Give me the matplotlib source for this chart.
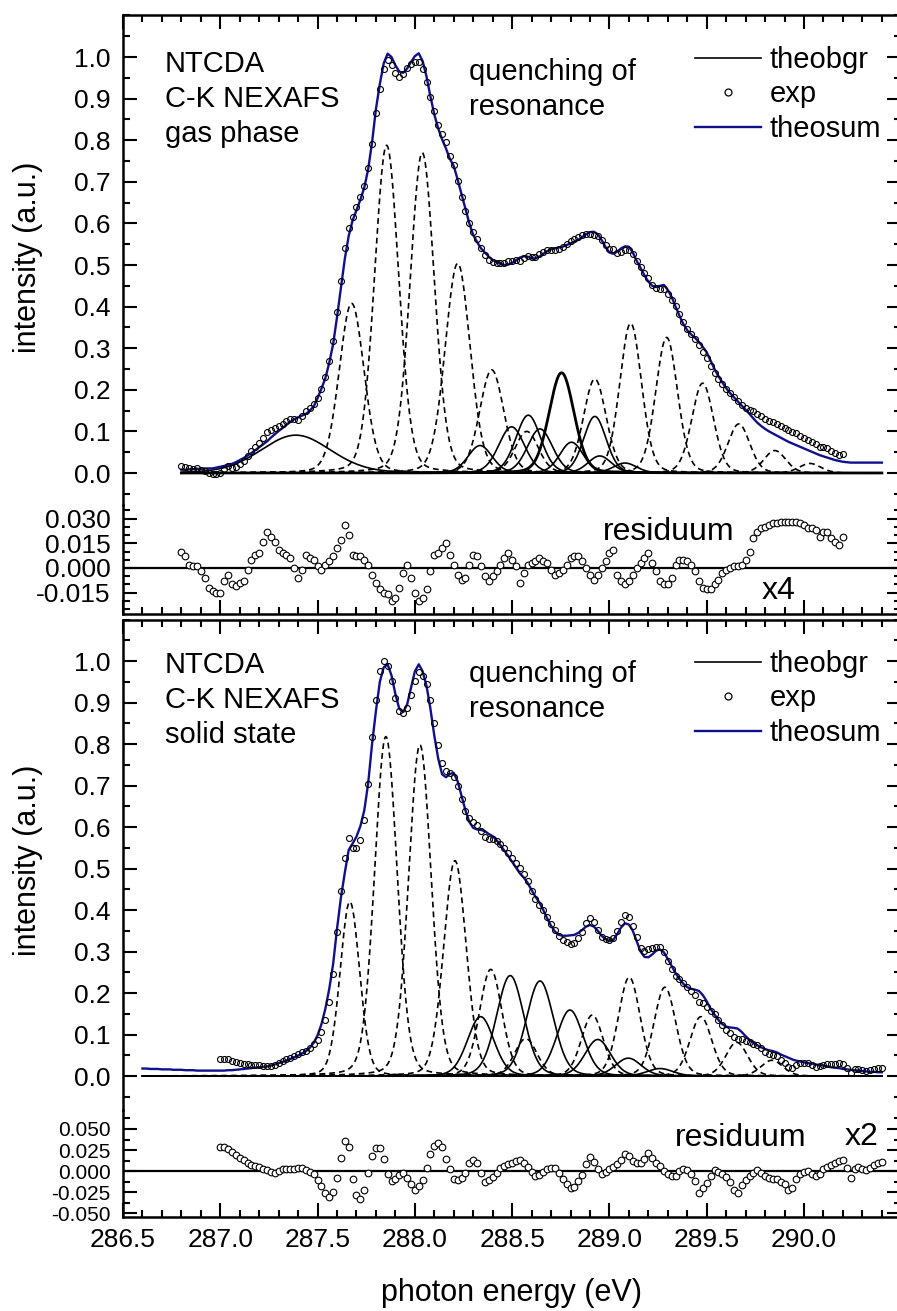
import numpy as np
import matplotlib.pyplot as plt
from matplotlib.lines import Line2D
from matplotlib.ticker import MultipleLocator, FixedLocator, FormatStrFormatter

plt.rcParams['font.family'] = ['Liberation Sans', 'DejaVu Sans']
plt.rcParams['axes.unicode_minus'] = False

# ---------------- gas phase (top) ----------------
# theosum, 0.02 eV steps from 286.80 to 290.40
gas_sum = [
    0.008, 0.008, 0.009, 0.009, 0.010, 0.010, 0.011, 0.011, 0.011, 0.013,
    0.015, 0.017, 0.020, 0.022, 0.026, 0.031, 0.036, 0.042, 0.048, 0.055,
    0.062, 0.069, 0.076, 0.085, 0.093, 0.101, 0.108, 0.116, 0.123, 0.129,
    0.134, 0.138, 0.142, 0.150, 0.160, 0.180, 0.203, 0.228, 0.265, 0.310,
    0.375, 0.445, 0.515, 0.570, 0.607, 0.632, 0.657, 0.686, 0.730, 0.795,
    0.875, 0.935, 0.985, 1.008, 1.000, 0.980, 0.965, 0.962, 0.972, 0.988,
    1.002, 1.009, 0.990, 0.953, 0.905, 0.862, 0.828, 0.802, 0.780, 0.755,
    0.738, 0.705, 0.670, 0.635, 0.600, 0.572, 0.555, 0.540, 0.530, 0.520,
    0.512, 0.507, 0.503, 0.500, 0.501, 0.505, 0.511, 0.518, 0.521, 0.520,
    0.516, 0.516, 0.520, 0.527, 0.533, 0.538, 0.540, 0.542, 0.544, 0.548,
    0.552, 0.556, 0.561, 0.567, 0.574, 0.579, 0.580, 0.574, 0.560, 0.543,
    0.530, 0.527, 0.532, 0.540, 0.545, 0.544, 0.530, 0.510, 0.493, 0.475,
    0.460, 0.450, 0.447, 0.450, 0.452, 0.440, 0.423, 0.400, 0.378, 0.358,
    0.343, 0.333, 0.325, 0.315, 0.303, 0.290, 0.270, 0.250, 0.233, 0.218,
    0.204, 0.192, 0.182, 0.172, 0.162, 0.152, 0.142, 0.131, 0.121, 0.113,
    0.106, 0.100, 0.095, 0.090, 0.085, 0.080, 0.075, 0.071, 0.067, 0.063,
    0.059, 0.055, 0.051, 0.047, 0.043, 0.040, 0.037, 0.034, 0.031, 0.029,
    0.027, 0.026, 0.025, 0.025, 0.025, 0.025, 0.025, 0.025, 0.025, 0.025,
    0.025]
gas_sum_start = 286.80

# residuum (exp - theosum), 0.02 eV steps from 286.80 to 290.20
gas_res = [
    0.010, 0.007, 0.002, 0.001, 0.001, -0.002, -0.006, -0.012, -0.014, -0.015,
    -0.015, -0.008, -0.004, -0.010, -0.011, -0.009, -0.008, -0.001, 0.005, 0.008,
    0.009, 0.016, 0.022, 0.019, 0.016, 0.011, 0.009, 0.008, 0.006, 0.000,
    -0.006, -0.001, 0.008, 0.006, 0.005, 0.001, -0.001, 0.002, 0.004, 0.007,
    0.012, 0.017, 0.026, 0.020, 0.008, 0.007, 0.007, 0.005, 0.002, -0.004,
    -0.009, -0.013, -0.015, -0.016, -0.020, -0.018, -0.012, -0.003, 0.002, -0.006,
    -0.015, -0.020, -0.018, -0.013, -0.002, 0.008, 0.009, 0.012, 0.015, 0.008,
    0.002, -0.004, -0.007, -0.006, 0.002, 0.008, 0.007, 0.001, -0.005, -0.008,
    -0.005, -0.002, 0.002, 0.006, 0.009, 0.005, 0.001, -0.009, -0.003, 0.002,
    0.003, 0.004, 0.006, 0.004, 0.003, -0.001, -0.004, -0.003, -0.001, 0.002,
    0.006, 0.007, 0.007, 0.004, 0.000, -0.004, -0.007, -0.004, 0.000, 0.004,
    0.009, 0.011, -0.004, -0.008, -0.010, -0.008, -0.004, 0.000, 0.003, 0.006,
    0.009, 0.003, -0.002, -0.008, -0.010, -0.010, -0.006, 0.002, 0.005, 0.005,
    0.004, 0.002, -0.002, -0.008, -0.012, -0.013, -0.013, -0.010, -0.007, -0.003,
    -0.001, 0.000, 0.001, 0.001, 0.002, 0.005, 0.010, 0.018, 0.022, 0.024,
    0.025, 0.026, 0.027, 0.027, 0.028, 0.028, 0.028, 0.028, 0.028, 0.027,
    0.026, 0.024, 0.024, 0.023, 0.019, 0.022, 0.022, 0.018, 0.016, 0.014,
    0.019]
gas_res_start = 286.80

# fitted components: centre (eV), height, sigma (eV)
gas_dash_pos = [287.675, 287.855, 288.038, 288.220, 288.395, 288.575, 288.925,
                289.109, 289.294, 289.479, 289.665, 289.850, 290.030]
gas_dash_amp = [0.408, 0.788, 0.770, 0.504, 0.248, 0.100, 0.226,
                0.360, 0.326, 0.216, 0.118, 0.054, 0.023]
gas_dash_wid = [0.064, 0.062, 0.062, 0.064, 0.062, 0.060, 0.058,
                0.056, 0.056, 0.056, 0.056, 0.056, 0.056]
gas_solid_pos = [287.388, 288.335, 288.497, 288.583, 288.643, 288.754,
                 288.805, 288.925, 288.950, 289.080]
gas_solid_amp = [0.091, 0.066, 0.111, 0.139, 0.106, 0.241,
                 0.074, 0.136, 0.041, 0.024]
gas_solid_wid = [0.180, 0.062, 0.066, 0.064, 0.064, 0.064,
                 0.060, 0.058, 0.060, 0.060]

# ---------------- solid state (bottom) ----------------
# theosum, 0.02 eV steps from 286.60 to 290.40
sol_sum = [
    0.018, 0.018, 0.017, 0.017, 0.017, 0.016, 0.016, 0.016, 0.015, 0.015,
    0.015, 0.014, 0.014, 0.014, 0.013, 0.013, 0.013, 0.013, 0.013, 0.013,
    0.013, 0.013, 0.014, 0.014, 0.015, 0.016, 0.017, 0.018, 0.019, 0.020,
    0.021, 0.022, 0.023, 0.025, 0.028, 0.031, 0.034, 0.037, 0.041, 0.045,
    0.049, 0.054, 0.060, 0.068, 0.080, 0.098, 0.125, 0.162, 0.210, 0.270,
    0.355, 0.430, 0.490, 0.545, 0.560, 0.577, 0.602, 0.640, 0.705, 0.800,
    0.880, 0.950, 0.985, 0.992, 0.965, 0.920, 0.885, 0.877, 0.895, 0.935,
    0.975, 0.992, 0.975, 0.940, 0.885, 0.820, 0.765, 0.727, 0.720, 0.728,
    0.730, 0.710, 0.675, 0.640, 0.612, 0.598, 0.594, 0.593, 0.590, 0.583,
    0.578, 0.568, 0.556, 0.543, 0.530, 0.516, 0.502, 0.488, 0.478, 0.465,
    0.448, 0.432, 0.418, 0.400, 0.380, 0.362, 0.348, 0.340, 0.338, 0.338,
    0.339, 0.340, 0.345, 0.352, 0.360, 0.364, 0.360, 0.350, 0.338, 0.330,
    0.325, 0.328, 0.342, 0.358, 0.368, 0.365, 0.350, 0.325, 0.300, 0.287,
    0.286, 0.293, 0.302, 0.305, 0.298, 0.282, 0.265, 0.248, 0.234, 0.222,
    0.214, 0.210, 0.208, 0.205, 0.195, 0.180, 0.162, 0.148, 0.135, 0.125,
    0.119, 0.117, 0.116, 0.114, 0.106, 0.096, 0.087, 0.080, 0.074, 0.069,
    0.065, 0.062, 0.060, 0.057, 0.052, 0.048, 0.044, 0.040, 0.037, 0.035,
    0.033, 0.031, 0.030, 0.028, 0.026, 0.025, 0.023, 0.021, 0.020, 0.019,
    0.017, 0.016, 0.015, 0.014, 0.013, 0.012, 0.011, 0.010, 0.010, 0.009,
    0.009]
sol_sum_start = 286.60

# residuum, 0.02 eV steps from 287.00 to 290.40
sol_res = [
    0.029, 0.028, 0.026, 0.023, 0.019, 0.015, 0.013, 0.010, 0.007, 0.006,
    0.005, 0.002, 0.001, -0.001, -0.002, 0.000, 0.002, 0.003, 0.003, 0.003,
    0.004, 0.004, 0.001, -0.001, -0.004, -0.011, -0.018, -0.026, -0.031, -0.025,
    -0.008, 0.015, 0.036, 0.028, -0.010, -0.028, -0.033, -0.022, -0.002, 0.018,
    0.027, 0.027, 0.014, -0.004, -0.012, -0.010, -0.005, -0.002, -0.008, -0.016,
    -0.022, -0.018, -0.011, 0.004, 0.020, 0.030, 0.033, 0.028, 0.014, 0.002,
    -0.009, -0.011, -0.008, -0.002, 0.010, 0.013, 0.010, -0.002, -0.013, -0.011,
    -0.007, -0.002, 0.004, 0.006, 0.008, 0.010, 0.012, 0.013, 0.009, 0.005,
    -0.001, -0.006, -0.005, -0.001, 0.002, 0.004, 0.004, -0.002, -0.010, -0.016,
    -0.020, -0.019, -0.012, -0.005, 0.008, 0.017, 0.011, 0.002, -0.003, -0.001,
    0.002, 0.005, 0.008, 0.013, 0.020, 0.018, 0.012, 0.010, 0.009, 0.014,
    0.021, 0.016, 0.010, 0.006, 0.000, -0.004, -0.006, -0.006, 0.000, 0.003,
    0.001, -0.004, -0.012, -0.026, -0.020, -0.014, -0.006, 0.001, -0.001, -0.003,
    -0.007, -0.013, -0.022, -0.026, -0.017, -0.011, -0.006, -0.002, 0.001, -0.002,
    -0.006, -0.008, -0.009, -0.009, -0.013, -0.016, -0.023, -0.020, -0.010, -0.004,
    -0.001, 0.000, -0.003, -0.006, -0.003, 0.002, 0.005, 0.007, 0.009, 0.012,
    0.013, 0.004, -0.008, 0.002, 0.005, 0.002, 0.001, 0.004, 0.007, 0.010,
    0.011]
sol_res_start = 287.00

sol_dash_pos = [287.666, 287.851, 288.026, 288.206, 288.390, 288.570, 288.912,
                289.102, 289.285, 289.470, 289.654, 289.835]
sol_dash_amp = [0.420, 0.818, 0.798, 0.519, 0.257, 0.090, 0.147,
                0.238, 0.214, 0.143, 0.081, 0.038]
sol_dash_wid = [0.050, 0.058, 0.058, 0.058, 0.058, 0.058, 0.056,
                0.056, 0.056, 0.056, 0.056, 0.056]
sol_solid_pos = [288.338, 288.490, 288.643, 288.797, 288.940, 289.097, 289.260]
sol_solid_amp = [0.143, 0.242, 0.229, 0.159, 0.088, 0.043, 0.018]
sol_solid_wid = [0.068, 0.070, 0.070, 0.068, 0.066, 0.066, 0.066]

STEP = 0.02
NAVY = '#10108c'


def energies(start, n):
    return start + STEP * np.arange(n)


def peak(x, c, h, s, eta=0.15):
    hw = 1.1774 * s
    g = np.exp(-0.5 * ((x - c) / s) ** 2)
    lor = 1.0 / (1.0 + ((x - c) / hw) ** 2)
    return h * ((1 - eta) * g + eta * lor)


W, H = 897, 1311
fig = plt.figure(figsize=(W / 100, H / 100), dpi=100)


def box(x0, y0, x1, y1):
    return [x0 / W, 1 - y1 / H, (x1 - x0) / W, (y1 - y0) / H]


ax1 = fig.add_axes(box(123, 15.4, 901.3, 505))
r1 = fig.add_axes(box(123, 505, 901.3, 614))
ax2 = fig.add_axes(box(123, 619.5, 901.3, 1110))
r2 = fig.add_axes(box(123, 1110, 901.3, 1217))


def style(ax, top_spine, bottom_spine, xlabels=False):
    ax.set_xlim(286.5, 290.5)
    for s in ax.spines.values():
        s.set_linewidth(1.8)
    ax.spines['top'].set_visible(top_spine)
    ax.spines['bottom'].set_visible(bottom_spine)
    ax.xaxis.set_major_locator(FixedLocator(np.arange(286.5, 290.01, 0.5)))
    ax.xaxis.set_minor_locator(MultipleLocator(0.1))
    ax.xaxis.set_major_formatter(FormatStrFormatter('%.1f'))
    ax.tick_params(axis='both', which='both', direction='in', width=1.5,
                   labelsize=19, left=True, right=True,
                   top=top_spine, bottom=bottom_spine,
                   labelbottom=xlabels, labeltop=False)
    ax.tick_params(axis='both', which='major', length=10)
    ax.tick_params(axis='both', which='minor', length=5)
    ax.tick_params(axis='x', pad=8)
    ax.tick_params(axis='y', pad=9)
    ax.patch.set_alpha(0)


def main_panel(ax, sum_start, ysum, res_start, res, dpos, damp, dwid,
               spos, samp, swid, bold, ylim, tx):
    xs = energies(sum_start, len(ysum))
    xf = np.linspace(xs[0], xs[-1], 900)
    for c, h, s in zip(dpos, damp, dwid):
        ax.plot(xf, peak(xf, c, h, s), color='black', lw=1.2,
                ls=(0, (3.5, 2.4)), zorder=2)
    for i, (c, h, s) in enumerate(zip(spos, samp, swid)):
        ax.plot(xf, peak(xf, c, h, s), color='black',
                lw=2.0 if i == bold else 1.2, zorder=2)
    xr = energies(res_start, len(res))
    i0 = int(round((res_start - sum_start) / STEP))
    yexp = np.array(ysum[i0:i0 + len(res)]) + np.array(res)
    ax.plot(xs, ysum, color=NAVY, lw=1.7, zorder=3)
    ax.plot(xr, yexp, ls='none', marker='o', ms=4.3, mew=0.8,
            mfc='none', mec='black', zorder=4)
    ax.set_ylim(*ylim)
    ax.yaxis.set_major_locator(FixedLocator(np.round(np.arange(0, 1.01, 0.1), 1)))
    ax.yaxis.set_minor_locator(MultipleLocator(0.05))
    ax.yaxis.set_major_formatter(FormatStrFormatter('%.1f'))

    h_bg = Line2D([], [], color='black', lw=1.2)
    h_exp = Line2D([], [], ls='none', marker='o', ms=5, mew=0.9,
                   mfc='white', mec='black')
    h_sum = Line2D([], [], color=NAVY, lw=1.7)
    fig.legend([h_bg, h_exp, h_sum], ['theobgr', 'exp', 'theosum'],
               loc='upper left', bbox_to_anchor=(695 / W, 1 - tx['leg'] / H),
               bbox_transform=fig.transFigure, frameon=False, fontsize=21,
               borderpad=0, borderaxespad=0, handlelength=2.25,
               handletextpad=0.3, labelspacing=0.22, numpoints=1)
    for s, y in zip(tx['left'], tx['left_y']):
        fig.text(165 / W, 1 - y / H, s, fontsize=21, va='baseline')
    for s, y in zip(['quenching of', 'resonance'], tx['q_y']):
        fig.text(469 / W, 1 - y / H, s, fontsize=21, va='baseline')


def res_panel(ax, res_start, res, ylim, majors, minor, word, factor, lsize):
    xr = energies(res_start, len(res))
    ax.axhline(0, color='black', lw=1.6, zorder=2)
    ax.plot(xr, res, ls='none', marker='o', ms=4.8, mew=0.8,
            mfc='white', mec='black', zorder=3)
    ax.set_ylim(*ylim)
    ax.yaxis.set_major_locator(FixedLocator(majors))
    ax.yaxis.set_minor_locator(MultipleLocator(minor))
    ax.yaxis.set_major_formatter(FormatStrFormatter('%.3f'))
    ax.tick_params(axis='y', labelsize=lsize)
    fig.text(word[0] / W, 1 - word[1] / H, 'residuum', fontsize=23, va='baseline')
    fig.text(factor[1] / W, 1 - factor[2] / H, factor[0], fontsize=23,
             va='baseline')


style(ax1, True, False)
style(r1, False, True)
style(ax2, True, False)
style(r2, False, True, xlabels=True)

main_panel(ax1, gas_sum_start, gas_sum, gas_res_start, gas_res,
           gas_dash_pos, gas_dash_amp, gas_dash_wid,
           gas_solid_pos, gas_solid_amp, gas_solid_wid, 5, (-0.0769, 1.1),
           {'leg': 46, 'left': ['NTCDA', 'C-K NEXAFS', 'gas phase'],
            'left_y': [71.7, 106.7, 141.5], 'q_y': [80, 115]})
main_panel(ax2, sol_sum_start, sol_sum, sol_res_start, sol_res,
           sol_dash_pos, sol_dash_amp, sol_dash_wid,
           sol_solid_pos, sol_solid_amp, sol_solid_wid, -1, (-0.0819, 1.1),
           {'leg': 650, 'left': ['NTCDA', 'C-K NEXAFS', 'solid state'],
            'left_y': [673.3, 708.3, 743.3], 'q_y': [681.7, 717.3]})

res_panel(r1, gas_res_start, gas_res, (-0.0279, 0.0382),
          [-0.015, 0.0, 0.015, 0.030], 0.005, (603, 540), ('x4', 762, 599), 19)
res_panel(r2, sol_res_start, sol_res, (-0.0547, 0.0726),
          [-0.050, -0.025, 0.0, 0.025, 0.050], 0.0125, (675, 1146.5),
          ('x2', 845, 1145), 15)

fig.text(28 / W, 1 - 257 / H, 'intensity (a.u.)', rotation=90, fontsize=22,
         ha='center', va='center')
fig.text(28 / W, 1 - 860 / H, 'intensity (a.u.)', rotation=90, fontsize=22,
         ha='center', va='center')
fig.text(511 / W, 1 - 1301 / H, 'photon energy (eV)', fontsize=22,
         ha='center', va='baseline')

fig.savefig('out.png', dpi=100)
